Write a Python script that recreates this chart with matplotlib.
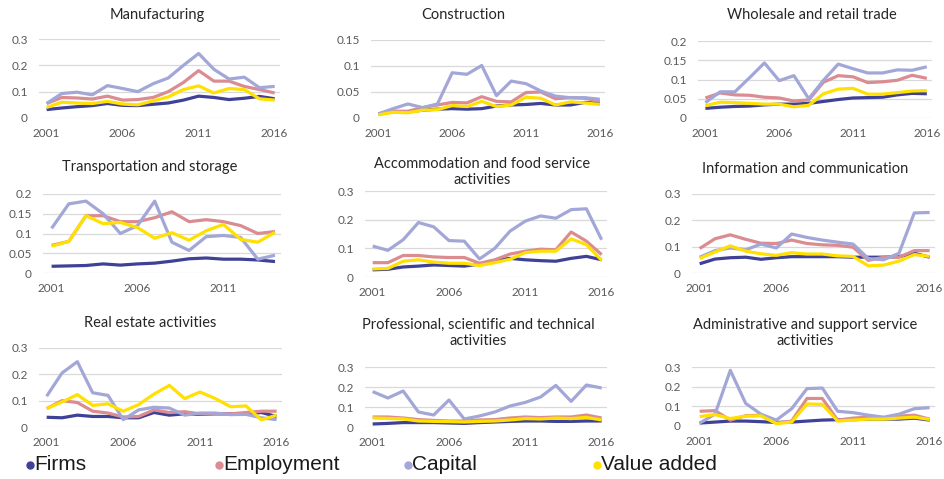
import matplotlib
matplotlib.use("Agg")
import matplotlib.pyplot as plt
from matplotlib.lines import Line2D
from matplotlib.ticker import FuncFormatter
import numpy as np

plt.rcParams['font.family'] = ['Lato', 'DejaVu Sans']

series_names = ['Firms', 'Employment', 'Capital', 'Value added']
colors = ['#3F4196', '#DA8C91', '#A2A7D8', '#FFE000']

years = np.arange(2001, 2017)
years_transport = np.arange(2001, 2015)

# rows: firms, employment, capital, value added
manufacturing = [
    [0.032, 0.038, 0.043, 0.047, 0.055, 0.048, 0.047, 0.052, 0.057, 0.068, 0.083, 0.078, 0.070, 0.075, 0.082, 0.073],
    [0.055, 0.078, 0.076, 0.072, 0.083, 0.068, 0.070, 0.078, 0.100, 0.135, 0.180, 0.140, 0.140, 0.120, 0.108, 0.095],
    [0.055, 0.093, 0.098, 0.088, 0.123, 0.112, 0.100, 0.130, 0.152, 0.200, 0.245, 0.185, 0.148, 0.155, 0.115, 0.120],
    [0.040, 0.060, 0.057, 0.055, 0.063, 0.053, 0.050, 0.065, 0.080, 0.108, 0.122, 0.095, 0.112, 0.108, 0.073, 0.068],
]
construction = [
    [0.008, 0.012, 0.012, 0.015, 0.017, 0.018, 0.017, 0.018, 0.023, 0.025, 0.026, 0.028, 0.025, 0.025, 0.030, 0.028],
    [0.008, 0.013, 0.013, 0.020, 0.025, 0.030, 0.029, 0.041, 0.032, 0.031, 0.049, 0.050, 0.037, 0.039, 0.038, 0.032],
    [0.008, 0.018, 0.027, 0.020, 0.027, 0.087, 0.084, 0.101, 0.043, 0.071, 0.066, 0.052, 0.042, 0.039, 0.039, 0.036],
    [0.006, 0.011, 0.010, 0.015, 0.016, 0.024, 0.022, 0.032, 0.022, 0.025, 0.040, 0.038, 0.025, 0.031, 0.029, 0.026],
]
wholesale = [
    [0.025, 0.028, 0.030, 0.031, 0.034, 0.036, 0.036, 0.038, 0.043, 0.048, 0.052, 0.053, 0.054, 0.060, 0.064, 0.063],
    [0.052, 0.065, 0.060, 0.059, 0.054, 0.052, 0.044, 0.047, 0.093, 0.110, 0.107, 0.092, 0.094, 0.098, 0.111, 0.103],
    [0.040, 0.068, 0.068, 0.105, 0.143, 0.097, 0.110, 0.050, 0.098, 0.140, 0.128, 0.117, 0.117, 0.125, 0.124, 0.133],
    [0.032, 0.041, 0.040, 0.038, 0.036, 0.036, 0.029, 0.033, 0.063, 0.075, 0.077, 0.062, 0.062, 0.066, 0.070, 0.071],
]
transport = [
    [0.017, 0.018, 0.019, 0.023, 0.020, 0.023, 0.025, 0.030, 0.036, 0.038, 0.035, 0.035, 0.033, 0.029],
    [0.070, 0.080, 0.145, 0.145, 0.130, 0.130, 0.140, 0.155, 0.130, 0.135, 0.130, 0.120, 0.100, 0.105],
    [0.113, 0.175, 0.182, 0.150, 0.100, 0.120, 0.182, 0.078, 0.057, 0.092, 0.095, 0.090, 0.035, 0.045],
    [0.068, 0.080, 0.145, 0.125, 0.128, 0.115, 0.088, 0.102, 0.083, 0.107, 0.123, 0.085, 0.078, 0.103],
]
accommodation = [
    [0.025, 0.027, 0.035, 0.038, 0.042, 0.040, 0.038, 0.045, 0.058, 0.065, 0.060, 0.057, 0.055, 0.065, 0.072, 0.060],
    [0.050, 0.050, 0.075, 0.075, 0.070, 0.068, 0.068, 0.048, 0.060, 0.080, 0.090, 0.097, 0.095, 0.157, 0.125, 0.078],
    [0.108, 0.093, 0.130, 0.190, 0.175, 0.127, 0.125, 0.063, 0.100, 0.160, 0.195, 0.213, 0.205, 0.235, 0.238, 0.130],
    [0.028, 0.030, 0.055, 0.060, 0.052, 0.048, 0.048, 0.040, 0.050, 0.062, 0.085, 0.090, 0.090, 0.133, 0.113, 0.058],
]
information = [
    [0.035, 0.053, 0.058, 0.060, 0.052, 0.058, 0.062, 0.062, 0.062, 0.062, 0.060, 0.060, 0.060, 0.062, 0.075, 0.060],
    [0.093, 0.130, 0.145, 0.128, 0.113, 0.112, 0.125, 0.112, 0.107, 0.105, 0.098, 0.048, 0.060, 0.060, 0.085, 0.085],
    [0.060, 0.085, 0.095, 0.088, 0.110, 0.095, 0.148, 0.135, 0.125, 0.117, 0.110, 0.055, 0.050, 0.075, 0.228, 0.230],
    [0.055, 0.080, 0.103, 0.083, 0.073, 0.067, 0.077, 0.072, 0.072, 0.065, 0.063, 0.027, 0.030, 0.045, 0.070, 0.063],
]
real_estate = [
    [0.037, 0.035, 0.045, 0.040, 0.040, 0.035, 0.035, 0.055, 0.045, 0.050, 0.048, 0.050, 0.050, 0.050, 0.055, 0.040],
    [0.070, 0.100, 0.093, 0.060, 0.053, 0.038, 0.040, 0.065, 0.055, 0.058, 0.050, 0.050, 0.050, 0.055, 0.060, 0.060],
    [0.117, 0.205, 0.248, 0.130, 0.120, 0.028, 0.065, 0.075, 0.072, 0.045, 0.053, 0.053, 0.047, 0.048, 0.035, 0.028],
    [0.070, 0.095, 0.123, 0.082, 0.088, 0.060, 0.085, 0.125, 0.158, 0.108, 0.133, 0.108, 0.077, 0.080, 0.027, 0.045],
]
professional = [
    [0.015, 0.018, 0.022, 0.022, 0.022, 0.020, 0.018, 0.022, 0.025, 0.028, 0.030, 0.030, 0.028, 0.028, 0.030, 0.030],
    [0.050, 0.050, 0.045, 0.037, 0.033, 0.030, 0.030, 0.035, 0.037, 0.045, 0.050, 0.047, 0.050, 0.050, 0.060, 0.045],
    [0.177, 0.145, 0.180, 0.075, 0.060, 0.135, 0.040, 0.055, 0.075, 0.105, 0.123, 0.150, 0.208, 0.128, 0.210, 0.195],
    [0.045, 0.043, 0.040, 0.030, 0.028, 0.027, 0.025, 0.028, 0.030, 0.035, 0.042, 0.040, 0.045, 0.042, 0.048, 0.035],
]
administrative = [
    [0.015, 0.020, 0.025, 0.025, 0.022, 0.018, 0.020, 0.025, 0.030, 0.032, 0.032, 0.035, 0.035, 0.035, 0.040, 0.030],
    [0.075, 0.078, 0.030, 0.052, 0.055, 0.015, 0.025, 0.140, 0.140, 0.030, 0.040, 0.045, 0.040, 0.050, 0.055, 0.035],
    [0.015, 0.060, 0.283, 0.115, 0.060, 0.030, 0.088, 0.190, 0.193, 0.075, 0.068, 0.055, 0.045, 0.060, 0.088, 0.093],
    [0.048, 0.058, 0.038, 0.050, 0.052, 0.012, 0.020, 0.112, 0.110, 0.025, 0.030, 0.035, 0.035, 0.040, 0.045, 0.033],
]

W, H = 945, 479
fig = plt.figure(figsize=(W / 100, H / 100), dpi=100)

# (title, data, x values, y max, y step, axes box in px: left, right, top, bottom, title centre px)
panels = [
    ('Manufacturing', manufacturing, years, 0.3, 0.1, (39, 280, 39, 118), (157, 15)),
    ('Construction', construction, years, 0.15, 0.05, (371, 605, 40, 118), (463, 15)),
    ('Wholesale and retail trade', wholesale, years, 0.2, 0.05, (698, 932, 41, 118), (812, 15)),
    ('Transportation and storage', transport, years_transport, 0.2, 0.05, (43, 281, 194, 273), (150, 167)),
    ('Accommodation and food service\nactivities', accommodation, years, 0.3, 0.1, (365, 607, 191, 277), (482, 172)),
    ('Information and communication', information, years, 0.3, 0.1, (692, 935, 194, 273), (805, 169)),
    ('Real estate activities', real_estate, years, 0.3, 0.1, (39, 282, 348, 427), (150, 323)),
    ('Professional, scientific and technical\nactivities', professional, years, 0.3, 0.1, (365, 607, 367, 427), (478, 333)),
    ('Administrative and support service\nactivities', administrative, years, 0.3, 0.1, (692, 935, 367, 426), (805, 333)),
]

fmt = FuncFormatter(lambda v, _: '0' if abs(v) < 1e-9 else '{:g}'.format(round(v, 3)))

for title, data, xs, ymax, ystep, (l, r, t, b), (tx, ty) in panels:
    ax = fig.add_axes([l / W, 1 - b / H, (r - l) / W, (b - t) / H])
    for vals, c in zip(data, colors):
        ax.plot(xs, vals, color=c, lw=2.3, solid_capstyle='butt', zorder=3)
    ax.set_ylim(0, ymax)
    ax.set_yticks(np.arange(0, ymax + ystep / 2, ystep))
    ax.yaxis.set_major_formatter(fmt)
    ax.set_xlim(xs[0] - 0.5, xs[-1] + 0.35)
    ax.set_xticks([y for y in (2001, 2006, 2011, 2016) if y <= xs[-1]])
    ax.grid(axis='y', color='#D9D9D9', lw=0.9)
    ax.set_axisbelow(True)
    for s in ax.spines.values():
        s.set_visible(False)
    ax.tick_params(length=0, labelsize=8.5, colors='#595959')
    ax.tick_params(axis='y', pad=8)
    ax.tick_params(axis='x', pad=7)
    fig.text(tx / W, 1 - ty / H, title, ha='center', va='center',
             fontsize=10.5, color='#262626', linespacing=1.25)

# legend along the bottom
for i, (name, c) in enumerate(zip(series_names, colors)):
    x0 = 30 + 189 * i
    fig.add_artist(Line2D([x0 / W], [1 - 465 / H], marker='o', ms=5,
                          color=c, ls='none', transform=fig.transFigure))
    fig.text((x0 + 4) / W, 1 - 465 / H, name, ha='left', va='center',
             fontsize=15, color='#1A1A1A',
             family=['Liberation Sans', 'DejaVu Sans'])

fig.savefig('out.png', dpi=100)
